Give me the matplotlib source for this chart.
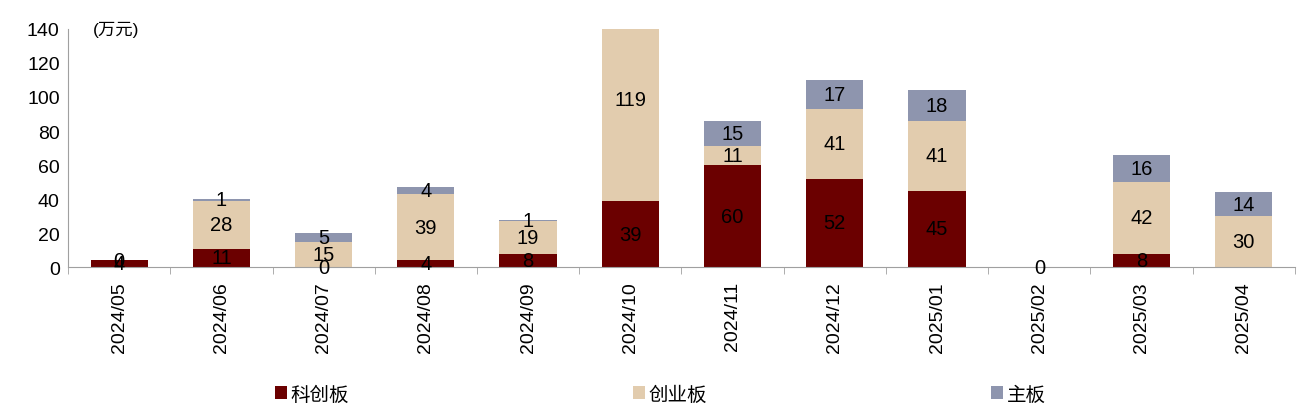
import matplotlib.pyplot as plt
import numpy as np

plt.rcParams['font.family'] = ['Liberation Sans', 'Noto Sans CJK SC']

# ---- data ----
months = ['2024/05', '2024/06', '2024/07', '2024/08', '2024/09', '2024/10',
          '2024/11', '2024/12', '2025/01', '2025/02', '2025/03', '2025/04']
kechuang = [4, 11, 0, 4, 8, 39, 60, 52, 45, 0, 8, 0]
chuangye = [0, 28, 15, 39, 19, 119, 11, 41, 41, 0, 42, 30]
zhuban = [0, 1, 5, 4, 1, 0, 15, 17, 18, 0, 16, 14]
# labels to print (None = not shown)
kechuang_lbl = [4, 11, 0, 4, 8, 39, 60, 52, 45, 0, 8, None]
chuangye_lbl = [0, 28, 15, 39, 19, 119, 11, 41, 41, None, 42, 30]
zhuban_lbl = [None, 1, 5, 4, 1, None, 15, 17, 18, None, 16, 14]

series = [('科创板', kechuang, kechuang_lbl, '#6b0000'),
          ('创业板', chuangye, chuangye_lbl, '#e2ccae'),
          ('主板', zhuban, zhuban_lbl, '#8e95ae')]

fig = plt.figure(figsize=(13.08, 4.14), dpi=100)
ax = fig.add_axes([0.052, 0.352, 0.938, 0.576])

x = np.arange(len(months))
bottom = np.zeros(len(months))
handles = []
for name, vals, lbls, color in series:
    vals = np.array(vals, dtype=float)
    b = ax.bar(x, vals, 0.56, bottom=bottom, color=color, label=name)
    handles.append(b)
    for i, (v, l) in enumerate(zip(vals, lbls)):
        if l is None:
            continue
        yc = bottom[i] + v / 2
        if yc > 140:
            continue
        ax.text(x[i], yc, str(l), ha='center', va='center', fontsize=14.5, color='black')
    bottom += vals

ax.set_ylim(0, 140)
ax.set_xlim(-0.5, len(months) - 0.5)
ax.set_yticks(range(0, 141, 20))
ax.tick_params(axis='y', length=0, labelsize=14, pad=6)
ax.set_xticks(x)
ax.set_xticklabels(months, rotation=90, fontsize=14)
ax.set_xticks(np.arange(-0.5, len(months), 1), minor=True)
ax.tick_params(axis='x', which='major', length=0, pad=10)
ax.tick_params(axis='x', which='minor', length=5, color='#a0a0a0', direction='out')

for s in ['top', 'right']:
    ax.spines[s].set_visible(False)
ax.spines['left'].set_color('#a0a0a0')
ax.spines['bottom'].set_color('#a0a0a0')

ax.text(0.02, 1.0, '(万元)', transform=ax.transAxes, fontsize=12.5, ha='left', va='center')

fig.legend(handles=handles, loc='center', bbox_to_anchor=(0.505, 0.045), ncol=3,
           frameon=False, fontsize=14, handlelength=0.6, handleheight=0.6,
           handletextpad=0.2, columnspacing=14.6)

plt.savefig('out.png', dpi=100)
